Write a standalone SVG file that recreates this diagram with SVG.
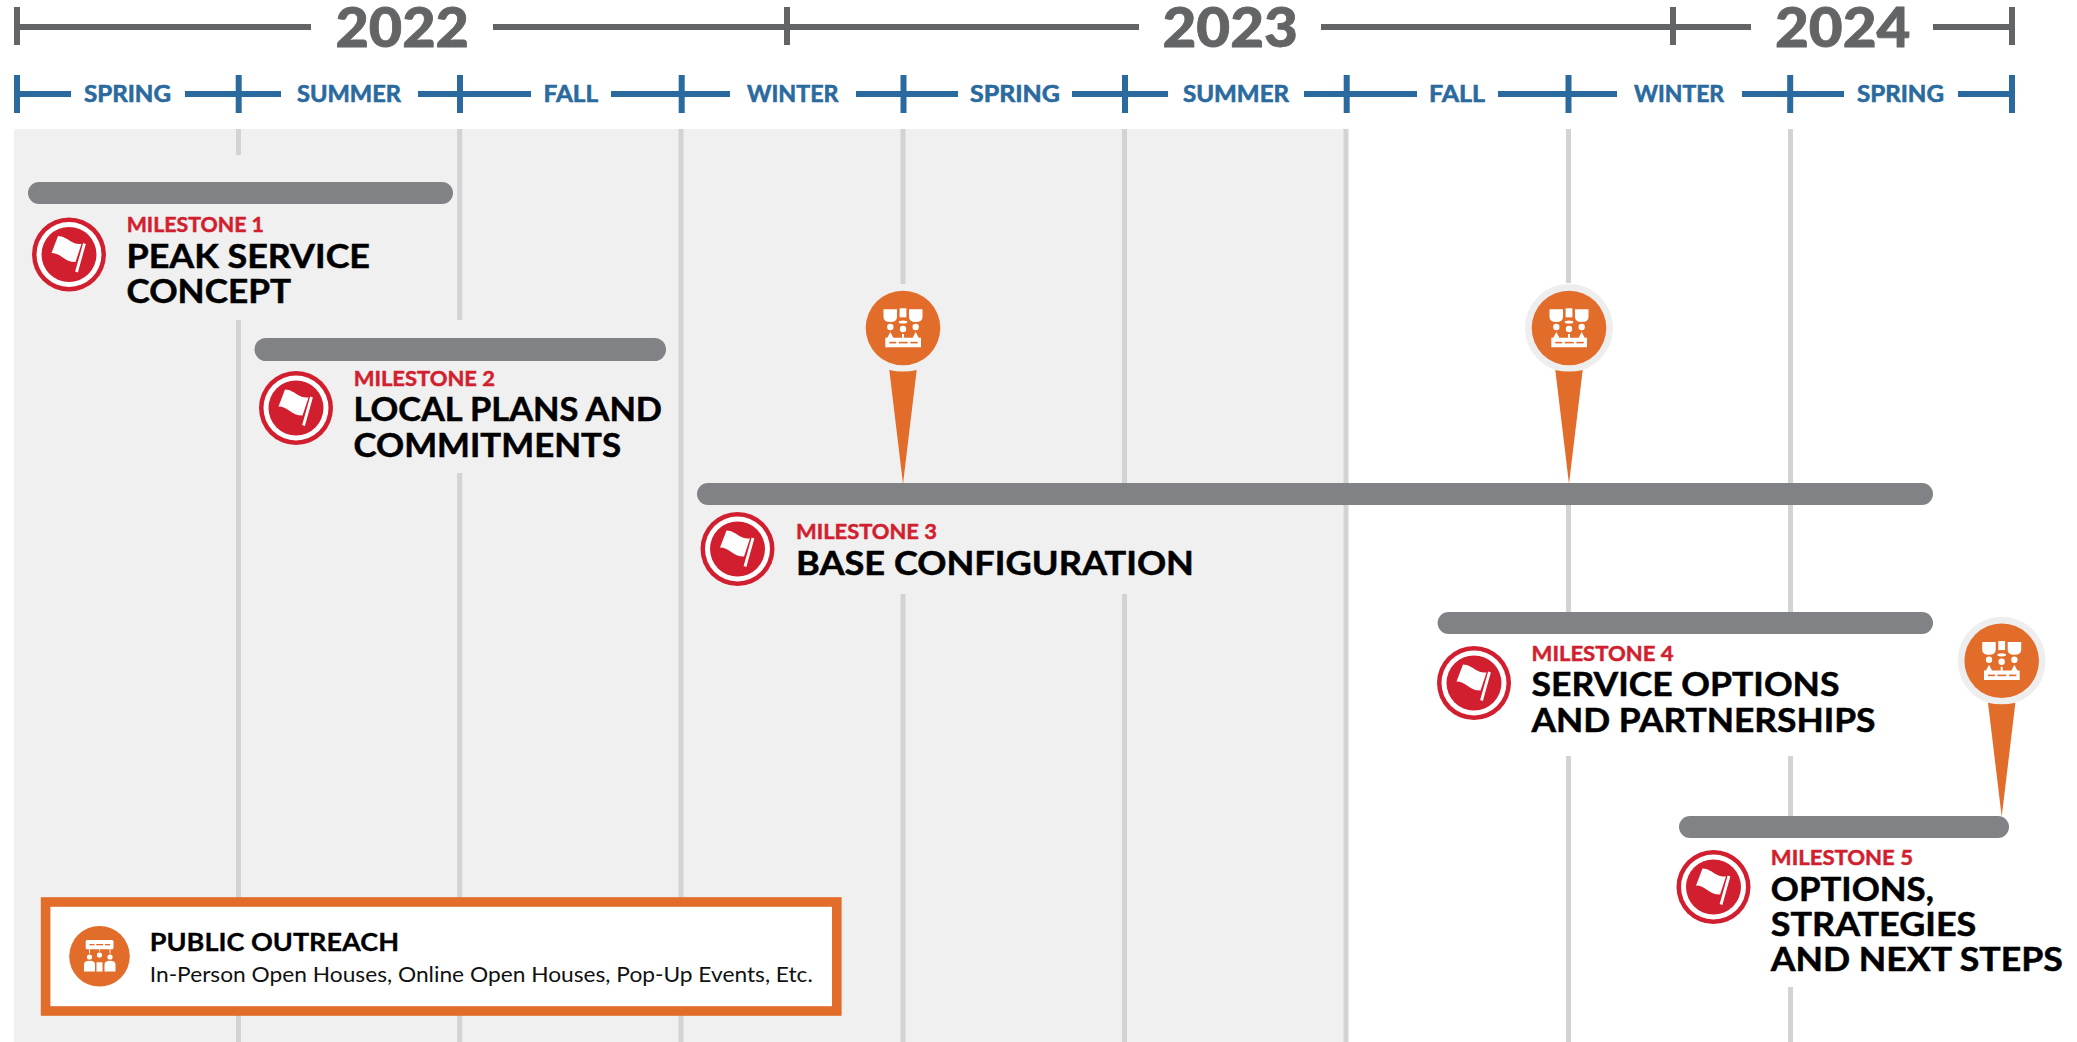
<svg xmlns="http://www.w3.org/2000/svg" width="2077" height="1042" viewBox="0 0 2077 1042">
<style>
text{font-family:"Lato","Liberation Sans",sans-serif}
.year{font-size:55px;font-weight:900;fill:#636466;stroke:#636466;stroke-width:.8px}
.season{font-size:23px;font-weight:700;fill:#2a6a9e;stroke:#2a6a9e;stroke-width:.6px}
.ms{font-size:21.5px;font-weight:700;fill:#d11f2f;stroke:#d11f2f;stroke-width:.5px}
.title{font-size:32px;font-weight:700;fill:#000;stroke:#000;stroke-width:.5px}
.sub{font-size:24px;font-weight:700;fill:#000;stroke:#000;stroke-width:.3px}
.grid{stroke:#d2d3d5;stroke-width:5;fill:none}
.yr{stroke:#636466;stroke-width:6;fill:none}
.se{stroke:#2a6a9e;stroke-width:6;fill:none}
.bar{fill:#818285}
.or{fill:#e26c2a}
.wh{fill:#fff}
</style>
<defs>
<g id="flagbadge">
<circle r="37" fill="#d11f2f"/><circle r="32.5" fill="#fff"/><circle r="27.5" fill="#d11f2f"/>
<path class="wh" d="M-11,-18.5C-6,-18.5 -2,-15.5 3,-12.5C7,-10.5 9,-10.5 12.5,-10.5L6.5,7.5C1,7.5 -3,5.5 -7,2.5C-10,0.5 -13,-1.5 -17.5,-1.5Z"/>
<path d="M15.5,-11L7.5,17.5" stroke="#fff" stroke-width="2.8" fill="none"/>
</g>
<g id="crowd">
<path class="wh" d="M-19.5,-18.7H-6V-11Q-6,-6 -12.7,-6Q-19.5,-6 -19.5,-11Z"/>
<path class="wh" d="M19.5,-18.7H6V-11Q6,-6 12.7,-6Q19.5,-6 19.5,-11Z"/>
<rect class="wh" x="-3.4" y="-19.7" width="6.8" height="9"/>
<ellipse class="wh" cy="-6" rx="4.4" ry="1.6"/>
<circle class="wh" cx="-12.7" cy="-1" r="3.2"/><circle class="wh" cy="1" r="3.2"/><circle class="wh" cx="12.7" cy="-1" r="3.2"/>
<path class="wh" d="M-17.7,9.7H-15.7L-12.7,4L-9.7,9.7H-1V6H1V9.7H9.7L12.7,4L15.7,9.7H18V19.3H-17.7Z"/>
<rect class="or" x="-13.7" y="13.8" width="7" height="1.6"/><rect class="or" x="-4.3" y="13.8" width="9" height="1.6"/><rect class="or" x="7.3" y="13.8" width="7.4" height="1.6"/>
</g>
<g id="pin">
<path class="or" d="M-13.7,42Q0,45 13.7,42L0,156Z"/>
<circle class="or" r="37.3"/>
<use href="#crowd"/>
</g>
</defs>

<rect width="2077" height="1042" fill="#fff"/>
<rect x="14" y="129" width="1333" height="913" fill="#f0f0f0"/>

<g id="connectors">
<path class="grid" d="M238.5,129V155M238.5,320V1042M459.7,129V320M459.7,473V1042M681,129V1042M903,129V284M903,594V1042M1124.5,129V483M1124.5,594V1042M1346,129V1042M1568.5,129V283M1568.5,505V612M1568.5,756V1042M1790.5,129V483M1790.5,505V612M1790.5,756V816M1790.5,987V1042"/>
</g>

<g id="year-axis">
<path class="yr" d="M17,27H311M493,27H1139M1321,27H1751M1933,27H2012M17,7V45M787,7V45M1673,7V45M2012,7V45"/>
<text class="year" x="335.5" y="46.5" textLength="133.5" lengthAdjust="spacingAndGlyphs">2022</text>
<text class="year" x="1162.5" y="46.5" textLength="135.5" lengthAdjust="spacingAndGlyphs">2023</text>
<text class="year" x="1775" y="46.5" textLength="135.5" lengthAdjust="spacingAndGlyphs">2024</text>
</g>

<g id="season-axis">
<path class="se" d="M17,94H71M185,94H281M418,94H531M611,94H730M856,94H958M1072,94H1168M1304,94H1417M1498,94H1617M1742,94H1844M1958,94H2012M17,75V113M238.7,75V113M460,75V113M681.7,75V113M903.5,75V113M1125,75V113M1346.7,75V113M1568.5,75V113M1790.2,75V113M2012,75V113"/>
<text class="season" x="84" y="102.3" textLength="87" lengthAdjust="spacingAndGlyphs">SPRING</text>
<text class="season" x="297" y="102.3" textLength="104" lengthAdjust="spacingAndGlyphs">SUMMER</text>
<text class="season" x="543.6" y="102.3" textLength="54.5" lengthAdjust="spacingAndGlyphs">FALL</text>
<text class="season" x="747" y="102.3" textLength="91.5" lengthAdjust="spacingAndGlyphs">WINTER</text>
<text class="season" x="970" y="102.3" textLength="90" lengthAdjust="spacingAndGlyphs">SPRING</text>
<text class="season" x="1183" y="102.3" textLength="106" lengthAdjust="spacingAndGlyphs">SUMMER</text>
<text class="season" x="1429" y="102.3" textLength="56" lengthAdjust="spacingAndGlyphs">FALL</text>
<text class="season" x="1634" y="102.3" textLength="90" lengthAdjust="spacingAndGlyphs">WINTER</text>
<text class="season" x="1857" y="102.3" textLength="87" lengthAdjust="spacingAndGlyphs">SPRING</text>
</g>

<g id="milestone-1">
<rect class="bar" x="28" y="182" width="425" height="22" rx="11"/>
<use href="#flagbadge" x="69" y="254.5"/>
<text class="ms" x="126.7" y="232" textLength="137.3" lengthAdjust="spacingAndGlyphs">MILESTONE 1</text>
<text class="title" x="126.5" y="267.5" textLength="243.5" lengthAdjust="spacingAndGlyphs">PEAK SERVICE</text>
<text class="title" x="126.5" y="303" textLength="164.5" lengthAdjust="spacingAndGlyphs">CONCEPT</text>
</g>
<g id="milestone-2">
<rect class="bar" x="254.5" y="338" width="411.5" height="23" rx="11.5"/>
<use href="#flagbadge" x="296" y="408"/>
<text class="ms" x="353.7" y="386" textLength="141.3" lengthAdjust="spacingAndGlyphs">MILESTONE 2</text>
<text class="title" x="353.5" y="421" textLength="308.5" lengthAdjust="spacingAndGlyphs">LOCAL PLANS AND</text>
<text class="title" x="353.5" y="456.7" textLength="267.5" lengthAdjust="spacingAndGlyphs">COMMITMENTS</text>
</g>
<g id="milestone-3">
<rect class="bar" x="697" y="483" width="1236" height="22" rx="11"/>
<use href="#flagbadge" x="737.5" y="549"/>
<text class="ms" x="796" y="538.7" textLength="141" lengthAdjust="spacingAndGlyphs">MILESTONE 3</text>
<text class="title" x="796" y="574.5" textLength="398" lengthAdjust="spacingAndGlyphs">BASE CONFIGURATION</text>
</g>
<g id="milestone-4">
<rect class="bar" x="1437.6" y="612" width="495.4" height="22" rx="11"/>
<use href="#flagbadge" x="1474" y="683"/>
<text class="ms" x="1531.6" y="660.7" textLength="142" lengthAdjust="spacingAndGlyphs">MILESTONE 4</text>
<text class="title" x="1531.5" y="696.2" textLength="308" lengthAdjust="spacingAndGlyphs">SERVICE OPTIONS</text>
<text class="title" x="1531.5" y="731.7" textLength="344" lengthAdjust="spacingAndGlyphs">AND PARTNERSHIPS</text>
</g>
<g id="milestone-5">
<rect class="bar" x="1679" y="816" width="330" height="22" rx="11"/>
<use href="#flagbadge" x="1713.5" y="887"/>
<text class="ms" x="1770.8" y="865" textLength="142.2" lengthAdjust="spacingAndGlyphs">MILESTONE 5</text>
<text class="title" x="1770.8" y="900.7" textLength="163" lengthAdjust="spacingAndGlyphs">OPTIONS,</text>
<text class="title" x="1770.8" y="936" textLength="205.5" lengthAdjust="spacingAndGlyphs">STRATEGIES</text>
<text class="title" x="1770.8" y="971.3" textLength="292" lengthAdjust="spacingAndGlyphs">AND NEXT STEPS</text>
</g>

<g id="pin-1"><use href="#pin" x="903" y="328"/></g>
<g id="pin-2"><circle cx="1569" cy="328" r="44" fill="#eeeeee"/><use href="#pin" x="1569" y="328"/></g>
<g id="pin-3"><circle cx="2001.7" cy="660.8" r="44" fill="#eeeeee"/><use href="#pin" x="2001.7" y="660.8"/></g>

<g id="public-outreach">
<rect x="45.6" y="902" width="791.2" height="109" fill="#fff" stroke="#e26c2a" stroke-width="9.6"/>
<circle class="or" cx="99.5" cy="956.3" r="30.3"/>
<g transform="translate(99.5 956.3)">
<rect class="wh" x="-13.8" y="-16.3" width="27.8" height="9.3" rx="1.5"/>
<rect class="or" x="-10" y="-12.3" width="5" height="1.3"/><rect class="or" x="-3.3" y="-12.3" width="7" height="1.3"/><rect class="or" x="5.5" y="-12.3" width="5" height="1.3"/>
<path d="M-10,-7V-3M0,-7V-5M10.5,-7V-3" stroke="#fff" stroke-width="1" fill="none"/>
<circle class="wh" cx="-10" cy="0.7" r="2.6"/><circle class="wh" cy="-1.3" r="2.6"/><circle class="wh" cx="10.5" cy="0.7" r="2.6"/>
<path class="wh" d="M-15.5,15.3V8Q-15.5,4.5 -10,4.5Q-4.5,4.5 -4.5,8V15.3Z"/>
<path class="wh" d="M16,15.3V8Q16,4.5 10.5,4.5Q5,4.5 5,8V15.3Z"/>
<rect class="wh" x="-3" y="6" width="6" height="9.3"/>
</g>
<text class="sub" x="149.8" y="950.7" textLength="249.2" lengthAdjust="spacingAndGlyphs">PUBLIC OUTREACH</text>
<text x="149.8" y="981.7" font-size="21.5" fill="#111" textLength="663" lengthAdjust="spacingAndGlyphs">In-Person Open Houses, Online Open Houses, Pop-Up Events, Etc.</text>
</g>
</svg>
